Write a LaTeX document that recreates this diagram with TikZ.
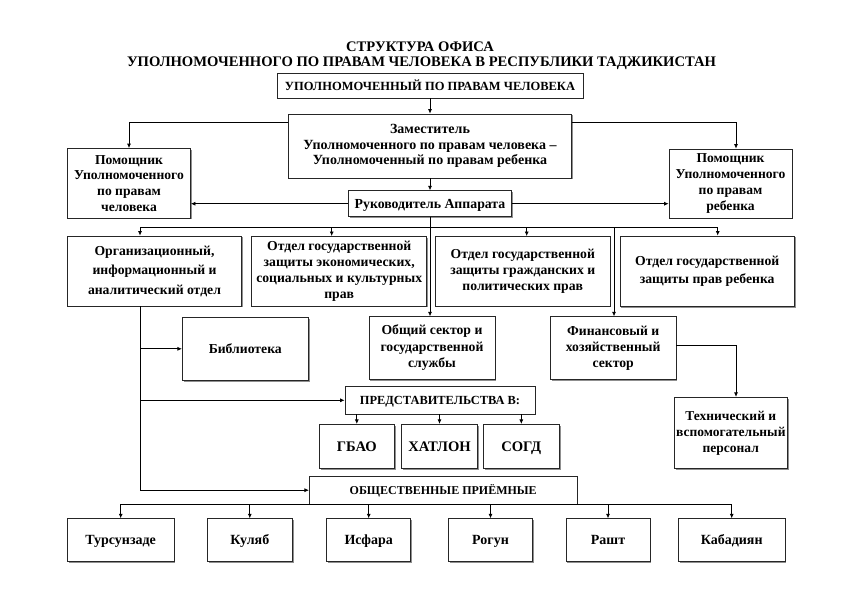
\documentclass[tikz,border=0pt]{standalone}
\usepackage{fontspec}
\setmainfont{Liberation Serif}
\usetikzlibrary{arrows.meta,shadows}
\newcommand{\fsz}[2]{\fontsize{#1}{#2}\selectfont\bfseries}
\begin{document}
\begin{tikzpicture}[x=1pt,y=-1pt,
  plainbox/.style={draw=black!85, line width=0.75pt, fill=white, inner sep=1pt, align=center},
  box/.style={plainbox, drop shadow={shadow xshift=1.4pt, shadow yshift=-1.4pt, fill=black!55, opacity=0.8}},
  wh/.style 2 args={minimum width=#1pt, minimum height=#2pt},
  one/.style={text height=#1pt, text depth=0pt},
  conn/.style={draw=black, line width=0.75pt},
  arr/.style={conn, -{Latex[length=4.5pt,width=4pt]}}]
\useasboundingbox[fill=white] (0,0) rectangle (842,595);

% title
\node[anchor=base, font=\fsz{14.6}{16}] (t1) at (420,51.5) {СТРУКТУРА ОФИСА};
\node[anchor=base, font=\fsz{14.6}{16}] (t2) at (421.5,66.5) {УПОЛНОМОЧЕННОГО ПО ПРАВАМ ЧЕЛОВЕКА В РЕСПУБЛИКИ ТАДЖИКИСТАН};

% boxes
\node[plainbox, wh={306}{24.5}, one=8.5, font=\fsz{12.5}{14}] (top) at (430,85.75) {УПОЛНОМОЧЕННЫЙ ПО ПРАВАМ ЧЕЛОВЕКА};
\node[box, wh={283}{64}, font=\fsz{14}{15.2}] (zam) at (430,146) {Заместитель\\Уполномоченного по правам человека –\\Уполномоченный по правам ребенка};
\node[box, wh={123}{69.5}, font=\fsz{13.6}{15.7}] (pomL) at (129,183.25) {Помощник\\Уполномоченного\\по правам\\человека};
\node[box, wh={123}{69}, font=\fsz{13.6}{15.7}] (pomR) at (730.5,183.5) {Помощник\\Уполномоченного\\по правам\\ребенка};
\node[box, wh={163}{26}, one=9.5, font=\fsz{13.8}{15}] (ruk) at (430,203.7) {Руководитель Аппарата};

\node[box, wh={174.4}{70}, font=\fsz{13.7}{19.5}] (org) at (154.5,271) {Организационный,\\информационный и\\аналитический отдел};
\node[box, wh={175}{69.5}, font=\fsz{13.7}{16}] (econ) at (339.2,271.2) {Отдел государственной\\защиты экономических,\\социальных и культурных\\прав};
\node[box, wh={174.3}{69.5}, font=\fsz{13.7}{16}] (grazh) at (522.8,271.2) {Отдел государственной\\защиты гражданских и\\политических прав};
\node[box, wh={174.3}{70.5}, font=\fsz{13.7}{18}] (reb) at (707.2,271.2) {Отдел государственной\\защиты прав ребенка};

\node[box, wh={126}{63}, one=9.5, font=\fsz{13.7}{16}] (bib) at (245.3,348.8) {Библиотека};
\node[box, wh={126}{62.6}, font=\fsz{13.7}{16.5}] (obsh) at (432,348) {Общий сектор и\\государственной\\службы};
\node[box, wh={125.7}{62.6}, font=\fsz{13.7}{16}] (fin) at (613.2,348) {Финансовый и\\хозяйственный\\сектор};
\node[box, wh={113}{71}, inner xsep=0pt, font=\fsz{13.5}{16}] (tech) at (730.8,432.8) {Технический и\\вспомогательный\\персонал};

\node[box, wh={190}{27.3}, one=8.5, font=\fsz{12.4}{13}] (pred) at (440,400.3) {ПРЕДСТАВИТЕЛЬСТВА В:};
\node[box, wh={75}{44}, one=10, font=\fsz{14.6}{16}] (gbao) at (356.8,446.3) {ГБАО};
\node[box, wh={75.6}{44}, one=10, font=\fsz{14.6}{16}] (hatlon) at (439.5,446.3) {ХАТЛОН};
\node[box, wh={76}{44}, one=10, font=\fsz{14.6}{16}] (sogd) at (521.3,446.3) {СОГД};

\node[box, wh={267.7}{27.7}, one=8.5, font=\fsz{12}{13}] (obshpr) at (443.2,490.2) {ОБЩЕСТВЕННЫЕ ПРИЁМНЫЕ};

\node[box, wh={106.7}{42.8}, one=9.5, font=\fsz{14}{15}] (tursun) at (120.7,540.1) {Турсунзаде};
\node[box, wh={85}{42.8}, one=9.5, font=\fsz{14}{15}] (kulyab) at (249.8,540.1) {Куляб};
\node[box, wh={84}{42.8}, one=9.5, font=\fsz{14}{15}] (isfara) at (368.7,540.1) {Исфара};
\node[box, wh={84.4}{42.8}, one=9.5, font=\fsz{14}{15}] (rogun) at (490.5,540.1) {Рогун};
\node[box, wh={84}{42.8}, one=9.5, font=\fsz{14}{15}] (rasht) at (608,540.1) {Рашт};
\node[box, wh={106.7}{42.8}, one=9.5, font=\fsz{14}{15}] (kabad) at (731.7,540.1) {Кабадиян};

% connectors top part
\draw[arr] (top.south) -- (zam.north);
\draw[arr] ([yshift=-8.5pt]zam.north west) -| (pomL.north);
\draw[arr] ([yshift=-8.5pt]zam.north east) -| ([xshift=5.5pt]pomR.north);
\draw[arr] (zam.south) -- (ruk.north);
\draw[arr] (ruk.west) -- (ruk.west -| pomL.east);
\draw[arr] (ruk.east) -- (ruk.east -| pomR.west);

% department bus
\coordinate (b1) at (140,227);
\coordinate (b2) at (331.7,227);
\coordinate (b3) at (526.7,227);
\coordinate (b4) at (717.7,227);
\coordinate (b5) at (614,227);
\draw[conn] (b1) -- (b4);
\draw[arr] (b1) -- (b1 |- org.north);
\draw[arr] (b2) -- (b2 |- econ.north);
\draw[arr] (b3) -- (b3 |- grazh.north);
\draw[arr] (b4) -- (b4 |- reb.north);
\draw[arr] (b5) -- (b5 |- fin.north);
\draw[arr] (ruk.south) -- (ruk.south |- obsh.north);

% organisational branch
\draw[arr] (org.south -| b1) |- (obshpr.west);
\draw[arr] (bib.west -| b1) -- (bib.west);
\draw[arr] (pred.west -| b1) -- (pred.west);

% finance -> technical
\draw[arr] ([yshift=3pt]fin.east) -| ([xshift=5.2pt]tech.north);

% representations
\draw[arr] (pred.south -| gbao.north) -- (gbao.north);
\draw[arr] (pred.south -| hatlon.north) -- (hatlon.north);
\draw[arr] (pred.south -| sogd.north) -- (sogd.north);

% public reception offices
\draw[conn] (obshpr.south -| tursun.north) -- (obshpr.south -| kabad.north);
\foreach \n in {tursun,kulyab,isfara,rogun,rasht,kabad}
  \draw[arr] (obshpr.south -| \n.north) -- (\n.north);
\end{tikzpicture}
\end{document}
